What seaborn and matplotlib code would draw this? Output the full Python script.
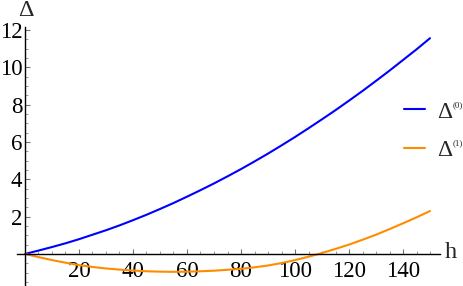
import pandas as pd
import matplotlib
matplotlib.use("Agg")
import matplotlib.pyplot as plt
import seaborn as sns
from matplotlib.ticker import MultipleLocator

# values
h = [0, 5, 10, 15, 20, 25, 30, 35, 40, 45, 50, 55, 60, 65, 70, 75, 80,
     85, 90, 95, 100, 105, 110, 115, 120, 125, 130, 135, 140, 145, 150]
delta0 = [0.0, 0.18, 0.37, 0.57, 0.79, 1.03, 1.27, 1.53, 1.81, 2.10, 2.41,
          2.73, 3.07, 3.42, 3.78, 4.16, 4.55, 4.96, 5.38, 5.82, 6.27, 6.74,
          7.22, 7.71, 8.22, 8.74, 9.28, 9.83, 10.40, 10.97, 11.57]
delta1 = [0.0, -0.17, -0.33, -0.47, -0.60, -0.70, -0.78, -0.84, -0.89, -0.93,
          -0.95, -0.96, -0.95, -0.93, -0.90, -0.85, -0.80, -0.72, -0.62, -0.49,
          -0.33, -0.15, 0.05, 0.27, 0.50, 0.76, 1.03, 1.33, 1.64, 1.96, 2.30]
series = ["Δ(0)", "Δ(1)"]
superscripts = ["(0)", "(1)"]
xticks = [20, 40, 60, 80, 100, 120, 140]
yticks = [2, 4, 6, 8, 10, 12]

df = pd.DataFrame({
    "h": h * 2,
    "value": delta0 + delta1,
    "series": [series[0]] * len(h) + [series[1]] * len(h),
})

sns.set_theme(style="white")
plt.rcParams["font.family"] = ["Liberation Serif", "DejaVu Serif"]

fig = plt.figure(figsize=(4.64, 2.86), dpi=100)
ax = fig.add_axes([17 / 464, 0, 423 / 464, 259 / 286])

palette = {series[0]: "#0000ff", series[1]: "#ff8c00"}
sns.lineplot(data=df, x="h", y="value", hue="series", palette=palette,
             linewidth=1.5, ax=ax)

ax.set_xlim(-2.96, 153.7)
ax.set_ylim(-1.72, 12.17)

# axes through the origin, Mathematica style
ax.spines["left"].set_position(("data", 0))
ax.spines["bottom"].set_position(("data", 0))
ax.spines["right"].set_visible(False)
ax.spines["top"].set_visible(False)
for s in ("left", "bottom"):
    ax.spines[s].set_color("black")
    ax.spines[s].set_linewidth(1.0)

ax.set_xticks(xticks)
ax.set_xticklabels([str(t) for t in xticks])
ax.set_yticks(yticks)
ax.set_yticklabels([str(t) for t in yticks])
ax.xaxis.set_minor_locator(MultipleLocator(5))
ax.yaxis.set_minor_locator(MultipleLocator(0.5))
ax.tick_params(which="major", direction="in", length=3.5, width=0.8,
               color="0.45", labelsize=16.5, labelcolor="black")
ax.tick_params(which="minor", direction="in", length=2, width=0.6, color="0.55")
ax.tick_params(axis="x", which="both", bottom=True, top=False, pad=5)
ax.tick_params(axis="y", which="both", left=True, right=False, pad=2)
ax.set_xlabel("")
ax.set_ylabel("")

fig.text(26 / 464, 1 - 11 / 286, "Δ", fontsize=17.5, ha="center", va="center")
fig.text(451 / 464, 1 - 253 / 286, "h", fontsize=17.5, ha="center", va="center")

leg = ax.legend(title=None, frameon=False, fontsize=17, handlelength=0.9,
                handletextpad=0.5, labelspacing=0.7, borderpad=0,
                borderaxespad=0, loc="center left",
                bbox_to_anchor=(404 / 464, 1 - 131 / 286),
                bbox_transform=fig.transFigure)
for t in leg.get_texts():
    t.set_text("Δ")

# small superscripts next to each legend Δ
fig.canvas.draw()
inv = fig.transFigure.inverted()
for t, sup in zip(leg.get_texts(), superscripts):
    bb = t.get_window_extent()
    x0, y0 = inv.transform((bb.x1, bb.y1 + 1))
    fig.text(x0, y0, sup, fontsize=6.5, ha="left", va="top")

fig.savefig("out.png", dpi=100)
